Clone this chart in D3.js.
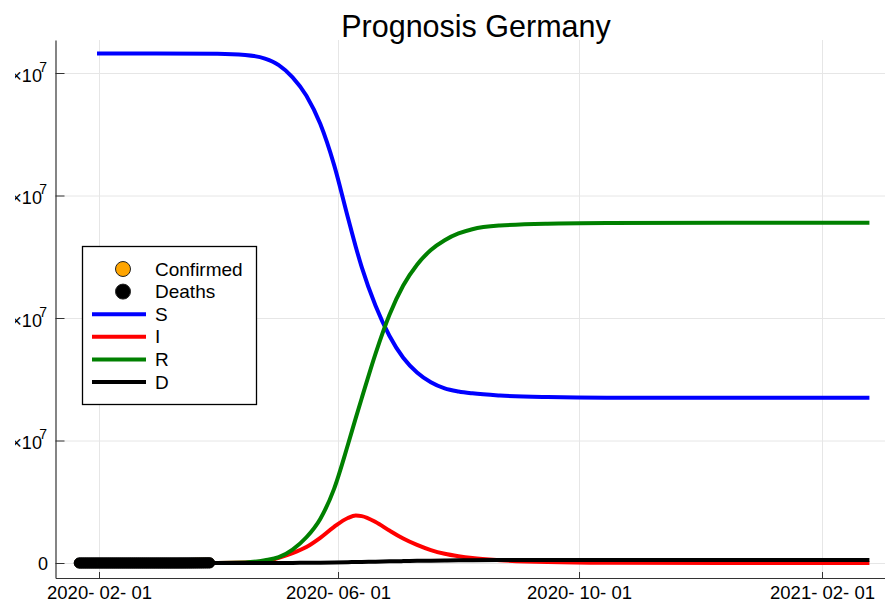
<!DOCTYPE html>
<html>
<head>
<meta charset="utf-8">
<script src="https://cdn.jsdelivr.net/npm/d3@7"></script>
<style>
  body { margin: 0; background: #fff; }
  svg { display: block; font-family: "Liberation Sans", Arial, sans-serif; }
</style>
</head>
<body>
<div id="chart"></div>
<script>
// model output (persons)
const modelDates = ["2020-01-31", "2020-03-01", "2020-04-01", "2020-04-15", "2020-04-25", "2020-05-02",
  "2020-05-09", "2020-05-16", "2020-05-23", "2020-05-30", "2020-06-06", "2020-06-10", "2020-06-13",
  "2020-06-20", "2020-06-27", "2020-07-04", "2020-07-11", "2020-07-18", "2020-07-25", "2020-08-01",
  "2020-08-08", "2020-08-22", "2020-09-15", "2020-10-15", "2020-12-15", "2021-02-25"];
const sValues = [83.2e6, 83.2e6, 83.15e6, 82.95e6, 82.35e6, 81.3e6, 79.3e6, 76.3e6, 71.7e6, 65.0e6,
  56.4e6, 51.6e6, 48.3e6, 42.0e6, 37.1e6, 33.5e6, 31.1e6, 29.5e6, 28.5e6, 28.0e6, 27.7e6, 27.35e6,
  27.1e6, 27.0e6, 27.0e6, 27.0e6];
const iValues = [0, 0.002e6, 0.01e6, 0.07e6, 0.3e6, 0.85e6, 1.6e6, 2.6e6, 4.1e6, 5.9e6, 7.35e6,
  7.75e6, 7.65e6, 6.7e6, 5.3e6, 4.0e6, 2.95e6, 2.1e6, 1.5e6, 1.1e6, 0.8e6, 0.45e6, 0.15e6, 0.03e6, 0, 0];
const rValues = [0, 0.002e6, 0.01e6, 0.08e6, 0.45e6, 0.95e6, 2.2e6, 4.2e6, 7.2e6, 12.1e6, 19.3e6,
  23.7e6, 26.9e6, 34.2e6, 40.5e6, 45.3e6, 48.7e6, 51.1e6, 52.7e6, 53.8e6, 54.5e6, 55.1e6, 55.4e6,
  55.5e6, 55.55e6, 55.55e6];
const dValues = [0, 0, 0.001e6, 0.003e6, 0.006e6, 0.01e6, 0.02e6, 0.04e6, 0.06e6, 0.09e6, 0.13e6,
  0.16e6, 0.18e6, 0.22e6, 0.27e6, 0.31e6, 0.35e6, 0.38e6, 0.41e6, 0.43e6, 0.45e6, 0.47e6, 0.49e6,
  0.5e6, 0.5e6, 0.5e6];

// observed data, daily from 2020-01-22
const obsStart = "2020-01-22";
const confirmed = [0, 0, 0, 0, 0, 1, 4, 4, 4, 5,
  8, 10, 12, 12, 12, 12, 13, 13, 14, 14, 16, 16, 16, 16, 16, 16, 16, 16, 16, 16, 16, 16, 16, 16, 17, 27, 46, 48, 79,
  130, 159, 196, 262, 482, 670, 799, 1040, 1176, 1457, 1908, 2078, 3675, 4585, 5795, 7272, 9257, 12327,
  15320, 19848, 22213, 24873, 29056, 32986, 37323, 43938, 50871, 57695];
const deaths = [0, 0, 0, 0, 0, 0, 0, 0, 0, 0,
  0, 0, 0, 0, 0, 0, 0, 0, 0, 0, 0, 0, 0, 0, 0, 0, 0, 0, 0, 0, 0, 0, 0, 0, 0, 0, 0, 0, 0,
  0, 0, 0, 0, 0, 0, 0, 0, 2, 2, 3, 3, 7, 9, 11, 17, 24, 28, 44, 67, 84, 94, 123, 157, 206, 267, 342, 433];

const xTicks = ["2020-02-01", "2020-06-01", "2020-10-01", "2021-02-01"];
const yTicks = [0, 2e7, 4e7, 6e7, 8e7];

const W = 885, H = 604;
const plotLeft = 55.5, plotRight = 885, plotTop = 40, plotBottom = 578;

const parse = d3.utcParse("%Y-%m-%d");

// x: place the known ticks, then widen to the frame
const x0 = d3.scaleUtc().domain([parse("2020-02-01"), parse("2021-02-01")]).range([99, 822]);
const x = d3.scaleUtc().domain([x0.invert(plotLeft), x0.invert(plotRight)]).range([plotLeft, plotRight]);
const y0 = d3.scaleLinear().domain([0, 8e7]).range([563, 73]);
const y = d3.scaleLinear().domain([y0.invert(plotBottom), y0.invert(plotTop)]).range([plotBottom, plotTop]);

const svg = d3.select("#chart").append("svg")
  .attr("width", W).attr("height", H);

// grid
svg.append("g")
  .attr("transform", `translate(0, ${plotBottom})`)
  .call(d3.axisBottom(x).tickValues(xTicks.map(parse)).tickSize(-(plotBottom - plotTop)).tickFormat(""))
  .call(g => g.select(".domain").remove())
  .call(g => g.selectAll("line").attr("stroke", "#e6e6e6"));
svg.append("g")
  .attr("transform", `translate(${plotLeft}, 0)`)
  .call(d3.axisLeft(y).tickValues(yTicks).tickSize(-(plotRight - plotLeft)).tickFormat(""))
  .call(g => g.select(".domain").remove())
  .call(g => g.selectAll("line").attr("stroke", "#e6e6e6"));

// observed markers
const obsDates = d3.utcDay.range(parse(obsStart), d3.utcDay.offset(parse(obsStart), confirmed.length));
svg.append("g").selectAll("circle")
  .data(confirmed)
  .join("circle")
    .attr("cx", (d, i) => x(obsDates[i]))
    .attr("cy", d => y(d))
    .attr("r", 5)
    .attr("fill", "orange")
    .attr("stroke", "#222");
svg.append("g").selectAll("circle")
  .data(deaths)
  .join("circle")
    .attr("cx", (d, i) => x(obsDates[i]))
    .attr("cy", d => y(d))
    .attr("r", 5)
    .attr("fill", "black")
    .attr("stroke", "black");

// model lines
const series = [
  {name: "S", values: sValues, color: "blue"},
  {name: "I", values: iValues, color: "red"},
  {name: "R", values: rValues, color: "green"},
  {name: "D", values: dValues, color: "black"}
];
const line = d3.line()
  .x((d, i) => x(parse(modelDates[i])))
  .y(d => y(d))
  .curve(d3.curveMonotoneX);
svg.append("g").selectAll("path")
  .data(series)
  .join("path")
    .attr("fill", "none")
    .attr("stroke", d => d.color)
    .attr("stroke-width", 4)
    .attr("d", d => line(d.values));

// axes
svg.append("g")
  .attr("transform", `translate(0, ${plotBottom})`)
  .call(d3.axisBottom(x).tickValues(xTicks.map(parse)).tickSizeInner(-6).tickSizeOuter(0)
    .tickFormat(d3.utcFormat("%Y- %m- %d")))
  .call(g => g.select(".domain").attr("stroke", "#333").attr("stroke-width", 1.2))
  .call(g => g.selectAll("line").attr("stroke", "#333"))
  .call(g => g.selectAll("text")
    .attr("y", 21).attr("dy", null)
    .attr("font-size", 18.5).attr("fill", "black")
    .attr("font-family", "Liberation Sans, Arial, sans-serif"));

svg.append("g")
  .attr("transform", `translate(${plotLeft}, 0)`)
  .call(d3.axisLeft(y).tickValues(yTicks).tickSizeInner(-9).tickSizeOuter(0).tickFormat(""))
  .call(g => g.select(".domain").attr("stroke", "#333").attr("stroke-width", 1.2))
  .call(g => g.selectAll("line").attr("stroke", "#333"));

// the labels are cut at the left, as in the original
svg.append("clipPath").attr("id", "ylab")
  .append("rect").attr("x", 15).attr("y", 0).attr("width", 40).attr("height", H);

const ylab = svg.append("g").attr("clip-path", "url(#ylab)")
  .selectAll("text")
  .data(yTicks)
  .join("text")
    .attr("x", d => d === 0 ? 48 : 47)
    .attr("y", d => y(d) + 6.5)
    .attr("text-anchor", "end")
    .attr("font-size", 18);
ylab.filter(d => d === 0).text("0");
ylab.filter(d => d !== 0).each(function(d) {
  const t = d3.select(this).attr("y", y(d) + 8.7);
  t.append("tspan").text(`${d / 1e7}×10`);
  t.append("tspan").attr("dx", -2.7).attr("dy", -10).attr("font-size", 14).text("7");
});

// title
svg.append("text")
  .attr("x", 476).attr("y", 37)
  .attr("text-anchor", "middle")
  .attr("font-size", 30.5)
  .text("Prognosis Germany");

// legend
const legend = svg.append("g");
legend.append("rect")
  .attr("x", 82.5).attr("y", 246.5).attr("width", 174).attr("height", 158)
  .attr("fill", "white").attr("stroke", "black").attr("stroke-width", 1.3);
const legendItems = [
  {name: "Confirmed", type: "dot", color: "orange"},
  {name: "Deaths", type: "dot", color: "black"},
  ...series.map(s => ({name: s.name, type: "line", color: s.color}))
];
const ly = d3.scalePoint().domain(legendItems.map(d => d.name)).range([269, 382]);
const item = legend.selectAll("g.item")
  .data(legendItems)
  .join("g").attr("class", "item")
  .attr("transform", d => `translate(0, ${ly(d.name)})`);
item.filter(d => d.type === "dot").append("circle")
  .attr("cx", 123).attr("r", 7.5)
  .attr("fill", d => d.color).attr("stroke", "#222");
item.filter(d => d.type === "line").append("line")
  .attr("x1", 92).attr("x2", 146)
  .attr("stroke", d => d.color).attr("stroke-width", 4);
item.append("text")
  .attr("x", 155).attr("y", 6.5)
  .attr("font-size", 19)
  .text(d => d.name);
</script>
</body>
</html>
